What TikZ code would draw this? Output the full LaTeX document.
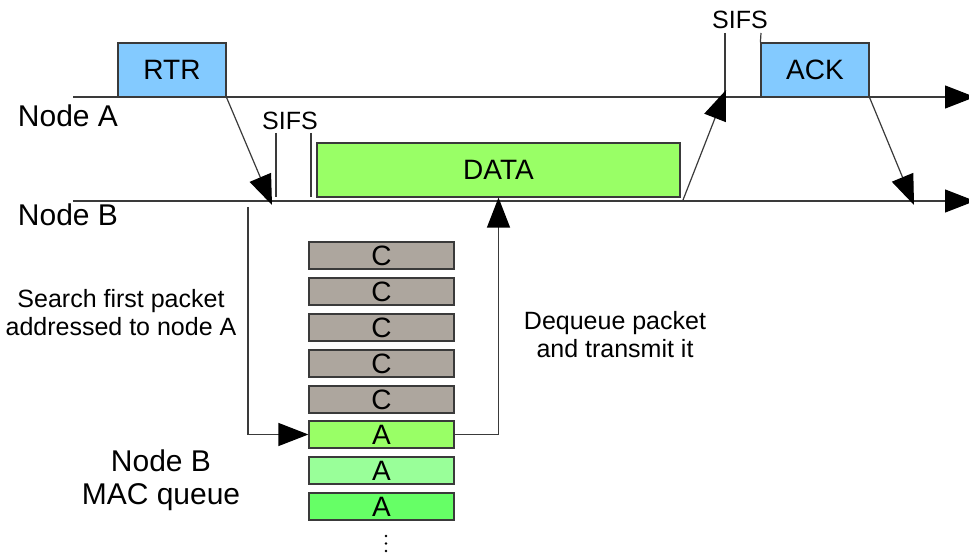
\documentclass[tikz,border=0pt]{standalone}
\usepackage{fontspec}
\setmainfont{Liberation Sans}
\usetikzlibrary{arrows.meta}
\definecolor{skyb}{HTML}{83CAFF}
\definecolor{dgreen}{HTML}{99FF66}
\definecolor{lgreen}{HTML}{99FF99}
\definecolor{mgreen}{HTML}{66FF66}
\definecolor{cgray}{HTML}{ADA69E}
\definecolor{linec}{HTML}{3A3A3A}
\begin{document}
\begin{tikzpicture}[x=1pt,y=-1pt,
  ln/.style={draw=linec,line width=1.2pt},
  arr/.style={ln,-{Triangle[length=30pt,width=23pt,color=black]}},
  frame/.style={draw=linec,line width=1.2pt,inner sep=0pt,font=\fontsize{28}{28}\selectfont},
  bigbox/.style={frame,minimum width=108pt,minimum height=54pt},
  qbox/.style={frame,minimum width=145pt,minimum height=27pt},
  lbl/.style={inner sep=0pt,font=\fontsize{30}{33}\selectfont,align=center},
  sml/.style={inner sep=0pt,font=\fontsize{25}{28}\selectfont,align=center}]
\useasboundingbox (0,0) rectangle (969,553);
% axes
\coordinate (aS) at (73,97);
\coordinate (aE) at (975,97);
\coordinate (bS) at (73,201);
\coordinate (bE) at (975,201);
\draw[arr] (aS) -- (aE);
\draw[arr] (bS) -- (bE);
% frames
\node[bigbox,fill=skyb] (rtr) at (172,70) {RTR};
\node[bigbox,fill=skyb] (ack) at (815,70) {ACK};
\node[frame,fill=dgreen,minimum width=363pt,minimum height=54pt] (data) at (498.5,170) {DATA};
% labels
\node[lbl] (la) at (68,116) {Node A};
\node[lbl] (lb) at (68,215) {Node B};
\node[sml] (sifs1) at (290,121) {SIFS};
\node[sml] (sifs2) at (740,20) {SIFS};
% SIFS markers
\coordinate (s1t) at (276,133); \coordinate (s1b) at (276,197);
\coordinate (s2t) at (311,133); \coordinate (s2b) at (311,197);
\coordinate (s3t) at (725,33); \coordinate (s3b) at (725,92);
\coordinate (s4t) at (761,33);
\draw[ln] (s1t) -- (s1b);
\draw[ln] (s2t) -- (s2b);
\draw[ln] (s3t) -- (s3b);
\draw[ln] (s4t) -- (ack.north west);
% transmission arrows
\coordinate (rtrtip) at (272,205);
\coordinate (dataS) at (683,200);
\coordinate (datatip) at (726,90);
\coordinate (acktip) at (914,205);
\draw[arr] (rtr.south east) -- (rtrtip);
\draw[arr] (dataS) -- (datatip);
\draw[arr] (ack.south east) -- (acktip);
% queue
\node[qbox,fill=cgray] (c1) at (381.5,255.5) {C};
\node[qbox,fill=cgray] (c2) at (381.5,291.5) {C};
\node[qbox,fill=cgray] (c3) at (381.5,327.5) {C};
\node[qbox,fill=cgray] (c4) at (381.5,363.5) {C};
\node[qbox,fill=cgray] (c5) at (381.5,399.5) {C};
\node[qbox,fill=dgreen] (a1) at (381.5,434.5) {A};
\node[qbox,fill=lgreen] (a2) at (381.5,470.5) {A};
\node[qbox,fill=mgreen] (a3) at (381.5,506.5) {A};
\fill[black] (386,536) circle (1.4) (386,543.5) circle (1.4) (386,551) circle (1.4);
% search / dequeue
\coordinate (loopS) at (248,207);
\draw[arr] (loopS) |- (a1.west);
\draw[arr] (a1.east) -| (data.south);
\node[sml] (search) at (121,313) {Search first packet\\addressed to node A};
\node[sml] (deq) at (615,335) {Dequeue packet\\and transmit it};
\node[lbl] (mq) at (161,480) {Node B\\MAC queue};
\end{tikzpicture}
\end{document}
